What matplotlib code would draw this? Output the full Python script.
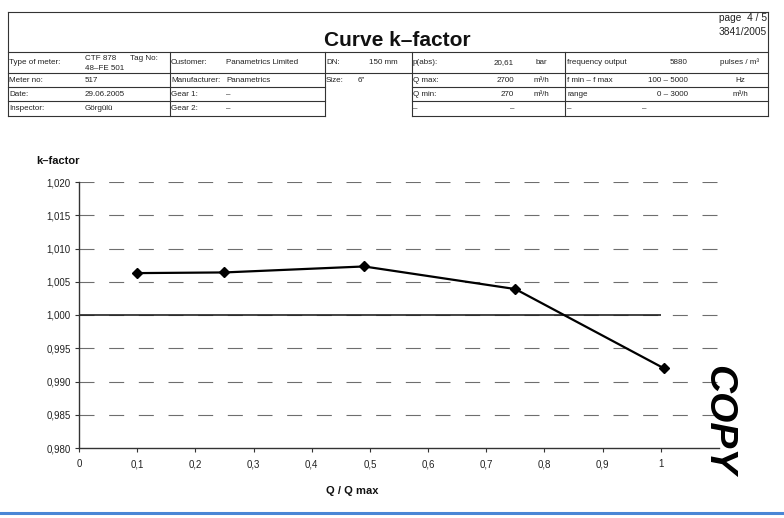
import matplotlib
matplotlib.use("Agg")
import matplotlib.pyplot as plt
from matplotlib.lines import Line2D

plt.rcParams['font.family'] = ['Liberation Sans', 'DejaVu Sans']

# measured k-factor points
q_ratio = [0.1, 0.25, 0.49, 0.75, 1.005]
k_factor = [1.0063, 1.0064, 1.0073, 1.0039, 0.9920]

x_ticks = [0, 0.1, 0.2, 0.3, 0.4, 0.5, 0.6, 0.7, 0.8, 0.9, 1.0]
x_tick_labels = ['0', '0,1', '0,2', '0,3', '0,4', '0,5', '0,6', '0,7', '0,8', '0,9', '1']
y_ticks = [0.980, 0.985, 0.990, 0.995, 1.000, 1.005, 1.010, 1.015, 1.020]
y_tick_labels = ['0,980', '0,985', '0,990', '0,995', '1,000', '1,005', '1,010', '1,015', '1,020']

# header table contents
meter_rows = [("Type of meter:", ""), ("Meter no:", "517"), ("Date:", "29.06.2005"), ("Inspector:", "Görgülü")]
customer_rows = [("Customer:", "Panametrics Limited"), ("Manufacturer:", "Panametrics"),
                 ("Gear 1:", "–"), ("Gear 2:", "–")]
dn_rows = [("DN:", "150 mm"), ("Size:", "6\"")]
process_rows = [("p(abs):", "20,61", "bar"), ("Q max:", "2700", "m³/h"),
                ("Q min:", "270", "m³/h"), ("–", "–", "")]
freq_rows = [("frequency output", "5880", "pulses / m³"), ("f min – f max", "100 – 5000", "Hz"),
             ("range", "0 – 3000", "m³/h"), ("–", "–", "")]

W, H = 784, 518
fig = plt.figure(figsize=(W / 100, H / 100), dpi=100)


def fx(x):
    return x / W


def fy(y):
    return 1 - y / H


def hline(x0, x1, y, lw=0.8, color='#333333'):
    fig.add_artist(Line2D([fx(x0), fx(x1)], [fy(y), fy(y)], lw=lw, color=color))


def vline(x, y0, y1, lw=0.8, color='#333333'):
    fig.add_artist(Line2D([fx(x), fx(x)], [fy(y0), fy(y1)], lw=lw, color=color))


def txt(x, y, s, ha='left', size=5.8, **kw):
    fig.text(fx(x), fy(y), s, ha=ha, va='center', fontsize=size, color='#222222', **kw)


# ---- header frame ----
hline(8, 768, 12)
hline(8, 768, 52)
vline(8, 12, 116)
vline(768, 12, 116)
row_lines = [73, 87, 101, 116]
for y in row_lines:
    hline(8, 325, y)
    hline(412, 768, y)
hline(325, 412, 73)
vline(170, 52, 116)
vline(325, 52, 116)
vline(412, 52, 116)
vline(565, 52, 116)

row_centers = [62.5, 80, 94.3, 108.5]

for (lab, val), y in zip(meter_rows, row_centers):
    txt(9, y, lab)
    if val:
        txt(85, y, val)
txt(85, 58, "CTF 878")
txt(130, 58, "Tag No:")
txt(85, 68.5, "48–FE 501")

for (lab, val), y in zip(customer_rows, row_centers):
    txt(171, y, lab)
    txt(226, y, val)

dn_val_x = [369, 358]
for (lab, val), y, vx in zip(dn_rows, row_centers, dn_val_x):
    txt(326, y, lab)
    txt(vx, y, val)

for (lab, val, unit), y in zip(process_rows, row_centers):
    txt(413, y, lab)
    txt(514, y, val, ha='right')
    if unit:
        txt(541, y, unit, ha='center')

for (lab, val, unit), y in zip(freq_rows, row_centers):
    txt(567, y, lab)
    if lab == "–":
        txt(642, y, val)
    else:
        txt(688, y, val, ha='right')
    if unit:
        txt(740, y, unit, ha='center')

fig.text(fx(397), fy(40), "Curve k–factor", ha='center', va='center',
         fontsize=15, fontweight='bold', color='#111111')
txt(767, 18, "page  4 / 5", ha='right', size=7.3)
txt(767, 32, "3841/2005", ha='right', size=7.3)

# ---- chart ----
ax = fig.add_axes([fx(79), fy(448), fx(719) - fx(79), fy(182) - fy(448)])
ax.set_xlim(0, 1.1)
ax.set_ylim(0.980, 1.020)

for y in y_ticks[1:]:
    ax.axhline(y, color='#6e6e6e', lw=0.8, dashes=(13.5, 13.2), zorder=1)
ax.hlines(1.000, 0, 1.0, color='#222222', lw=1.2, zorder=2)

ax.plot(q_ratio, k_factor, color='black', lw=1.6, marker='D', markersize=4.8, zorder=3)

ax.set_xticks(x_ticks)
ax.set_xticklabels(x_tick_labels)
ax.set_yticks(y_ticks)
ax.set_yticklabels(y_tick_labels)
ax.tick_params(labelsize=7, length=3, width=0.8, colors='#333333', labelcolor='#222222')
ax.tick_params(axis='x', pad=5)
ax.tick_params(axis='y', pad=3)

for side in ['top', 'right']:
    ax.spines[side].set_visible(False)
for side in ['left', 'bottom']:
    ax.spines[side].set_color('#333333')
    ax.spines[side].set_linewidth(1.0)
ax.patch.set_alpha(0)

fig.text(fx(36), fy(161), "k–factor", ha='left', va='center', fontsize=8,
         fontweight='bold', color='#111111')
fig.text(fx(352), fy(491), "Q / Q max", ha='center', va='center', fontsize=8,
         fontweight='bold', color='#111111')

# stamp
fig.text(fx(718), fy(420), "COPY", ha='center', va='center', fontsize=28,
         fontweight='bold', fontstyle='italic', rotation=-90, color='black')

# blue bottom rule
hline(0, W, 512.5, lw=2.2, color='#4a86d6')

fig.savefig("out.png", dpi=100)
